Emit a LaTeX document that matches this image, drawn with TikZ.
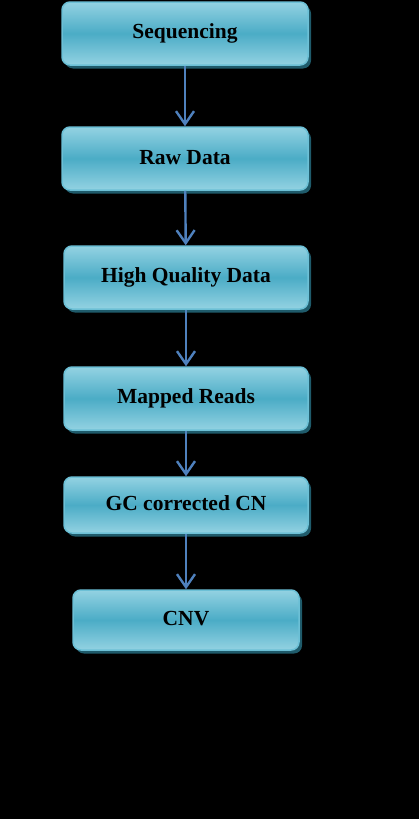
\documentclass[tikz,border=0pt]{standalone}
\usepackage{fontspec}
\setmainfont{Liberation Serif}
\usetikzlibrary{arrows.meta, shadows}
\definecolor{cianclaro}{HTML}{93D2E2}
\definecolor{cian}{HTML}{4BACC6}
\definecolor{borde}{HTML}{6CC0D6}
\definecolor{sombra}{HTML}{1F5B6B}
\definecolor{flechaazul}{HTML}{4F81BD}
\tikzset{
  paso/.style={rectangle, rounded corners=8pt, draw=borde, line width=1.5pt,
    top color=cianclaro, bottom color=cianclaro, middle color=cian,
    drop shadow={shadow xshift=3pt, shadow yshift=-3.5pt, fill=sombra, opacity=1},
    align=center, font=\fontsize{21.5}{26}\selectfont\bfseries, text=black,
    inner ysep=0pt},
  flecha/.style={-{Straight Barb[length=13pt, width=18pt]}, line width=2.4pt, flechaazul}
}
\newcommand{\sube}[1]{\raisebox{3pt}{#1}}
\begin{document}
\begin{tikzpicture}[x=1pt, y=-1pt]
  % fondo negro
  \fill[black] (0,0) rectangle (419,819);
  \useasboundingbox (0,0) rectangle (419,819);

  % --- Pasos ---
  \node[paso, minimum width=246pt, minimum height=63pt] (seq)  at (185,33.5)  {\sube{Sequencing}};
  \node[paso, minimum width=246pt, minimum height=63pt] (raw)  at (185,158.5) {\sube{Raw Data}};
  \node[paso, minimum width=244pt, minimum height=63pt] (hq)   at (186,277.5) {\sube{High Quality Data}};
  \node[paso, minimum width=244pt, minimum height=63pt] (map)  at (186,398.5) {\sube{Mapped Reads}};
  \node[paso, minimum width=244pt, minimum height=56pt] (gc)   at (186,505)   {\sube{GC corrected CN}};
  \node[paso, minimum width=226pt, minimum height=60pt] (cnv)  at (186,620)   {\sube{CNV}};

  % --- Flechas ---
  \draw[flecha] (seq) -- (raw);
  \draw[flecha] (raw) -- (hq);
  \draw[flecha] (hq)  -- (map);
  \draw[flecha] (map) -- (gc);
  \draw[flecha] (gc)  -- (cnv);
\end{tikzpicture}
\end{document}
